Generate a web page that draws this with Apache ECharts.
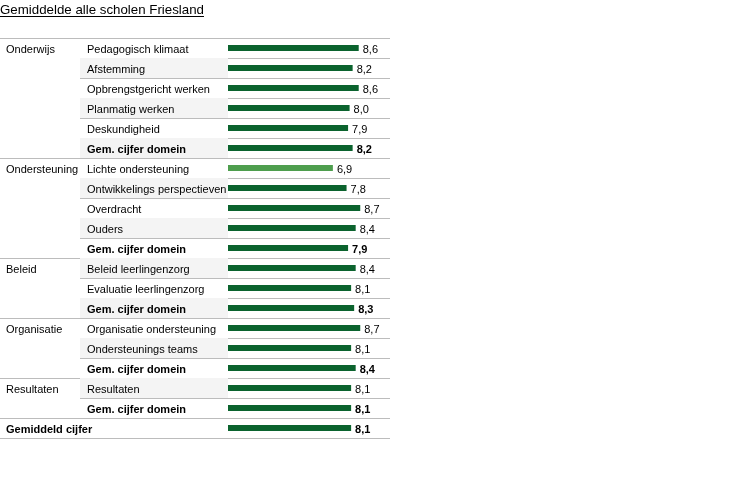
<!DOCTYPE html>
<html><head><meta charset="utf-8">
<script src="https://cdn.jsdelivr.net/npm/echarts@6/dist/echarts.min.js"></script>
<style>html,body{margin:0;padding:0;background:#fff}#c{width:747px;height:484px}</style>
</head><body><div id="c"></div>
<script>
const titleText = 'Gemiddelde alle scholen Friesland';
const groups = ['Onderwijs','','','','','',
  'Ondersteuning','','','','',
  'Beleid','','',
  'Organisatie','','',
  'Resultaten','',
  'Gemiddeld cijfer'];
const items = ['Pedagogisch klimaat','Afstemming','Opbrengstgericht werken','Planmatig werken','Deskundigheid','Gem. cijfer domein',
  'Lichte ondersteuning','Ontwikkelings perspectieven','Overdracht','Ouders','Gem. cijfer domein',
  'Beleid leerlingenzorg','Evaluatie leerlingenzorg','Gem. cijfer domein',
  'Organisatie ondersteuning','Ondersteunings teams','Gem. cijfer domein',
  'Resultaten','Gem. cijfer domein',
  ''];
const values = [8.6,8.2,8.6,8.0,7.9,8.2,
  6.9,7.8,8.7,8.4,7.9,
  8.4,8.1,8.3,
  8.7,8.1,8.4,
  8.1,8.1,
  8.1];
const boldRows = [5,10,13,16,18,19];
const lightRows = [6];
const groupStarts = [0,6,11,14,17,19];

const FONT = '"Liberation Sans", Arial, sans-serif';
const DARK = '#0b632e', LIGHT = '#4e9e4e', LINE = '#bcbcbc', SHADE = '#f4f4f4';
const N = items.length;
const cats = items.map((_, i) => String(i));
const itemRows = items.filter(s => s !== '').length;
const TOP = 38, H = 400;
const TITLE_SIZE = 13.3;

function measure(t, size) {
  const c = document.createElement('canvas').getContext('2d');
  c.font = size + 'px ' + FONT;
  return c.measureText(t).width;
}
const titleW = measure(titleText, TITLE_SIZE);

function yAx(gridIndex, extra) {
  return Object.assign({
    type: 'category', gridIndex, data: cats, inverse: true,
    axisLine: {show: false}, axisTick: {show: false}, axisLabel: {show: false},
    splitLine: {show: false}, splitArea: {show: false}
  }, extra);
}
function xAx(gridIndex, extra) {
  return Object.assign({
    type: 'value', gridIndex, min: 0, max: 10, show: false
  }, extra);
}
const PAD = [3, 0, 0, 0];
const chart = echarts.init(document.getElementById('c'));
chart.setOption({
  animation: false,
  title: {
    text: titleText, left: 0, top: 4, padding: 0,
    textStyle: {fontFamily: FONT, fontSize: TITLE_SIZE, fontWeight: 'normal', color: '#000'}
  },
  graphic: [{
    type: 'line', shape: {x1: 0, y1: 16.5, x2: titleW, y2: 16.5},
    style: {stroke: '#000', lineWidth: 1}
  }],
  grid: [
    {left: 0, top: TOP, width: 390, height: H},
    {left: 80, top: TOP, width: 310, height: H},
    {left: 80, top: TOP, width: 148, height: H * itemRows / N},
    {left: 228, top: TOP, width: 152, height: H}
  ],
  xAxis: [xAx(0), xAx(1), xAx(2), xAx(3)],
  yAxis: [
    yAx(0, {splitLine: {show: true, interval: (i) => groupStarts.includes(i), lineStyle: {color: LINE, width: 1}}}),
    yAx(1, {splitLine: {show: true, interval: 0, lineStyle: {color: LINE, width: 1}}}),
    yAx(2, {data: cats.slice(0, itemRows), splitArea: {show: true, interval: 0, areaStyle: {color: ['rgba(0,0,0,0)', SHADE]}}}),
    yAx(3, {
      axisLabel: {
        show: true, interval: 0, align: 'left', margin: 222,
        formatter: (v, i) => {
          const b = boldRows.includes(i) ? 'b' : '';
          const g = groups[i] || ' ';
          const s = items[i] || ' ';
          return '{g' + b + '|' + g + '}{s' + b + '|' + s + '}';
        },
        rich: {
          g: {width: 81, padding: PAD, fontFamily: FONT, fontSize: 11, color: '#000'},
          gb: {width: 81, padding: PAD, fontFamily: FONT, fontSize: 11, color: '#000', fontWeight: 'bold'},
          s: {padding: PAD, fontFamily: FONT, fontSize: 11, color: '#000'},
          sb: {padding: PAD, fontFamily: FONT, fontSize: 11, color: '#000', fontWeight: 'bold'}
        }
      }
    })
  ],
  series: [{
    type: 'bar', xAxisIndex: 3, yAxisIndex: 3, barWidth: 6,
    data: values.map((v, i) => ({
      value: v,
      itemStyle: {color: lightRows.includes(i) ? LIGHT : DARK},
      label: {fontWeight: boldRows.includes(i) ? 'bold' : 'normal'}
    })),
    label: {
      show: true, position: 'right', distance: 4, offset: [0, 1.5],
      fontFamily: FONT, fontSize: 11, color: '#000',
      formatter: (p) => values[p.dataIndex].toFixed(1).replace('.', ',')
    }
  }]
});
</script></body></html>
